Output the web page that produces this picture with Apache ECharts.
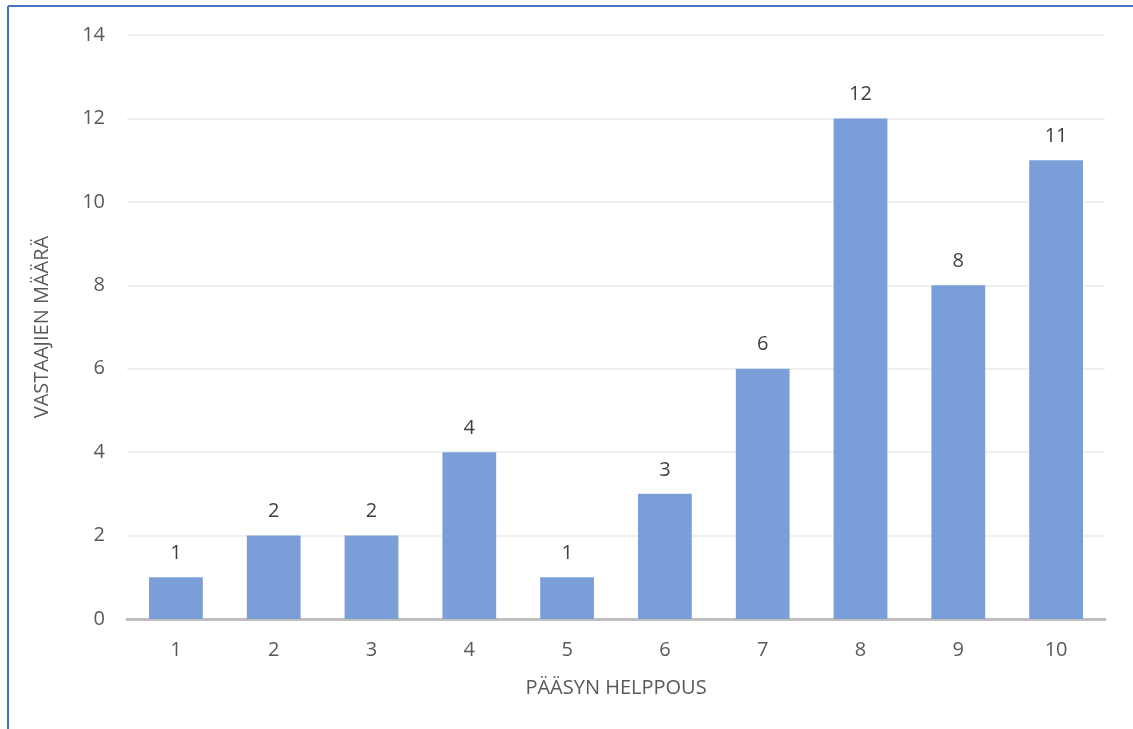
<!DOCTYPE html>
<html>
<head>
<meta charset="utf-8">
<script src="https://cdn.jsdelivr.net/npm/echarts@6/dist/echarts.min.js"></script>
<style>
  html, body { margin: 0; padding: 0; background: #ffffff; }
  #chart { width: 1133px; height: 729px; }
</style>
</head>
<body>
<div id="chart"></div>
<script>
// Vastausten jakauma pääsyn helppouden mukaan
const categories = ['1', '2', '3', '4', '5', '6', '7', '8', '9', '10'];
const respondents = [1, 2, 2, 4, 1, 3, 6, 12, 8, 11];
const yTicks = { min: 0, max: 14, interval: 2 };

const chart = echarts.init(document.getElementById('chart'), null, { renderer: 'canvas' });
const textColor = '#595959';
const font = '"Open Sans", "Noto Sans", sans-serif';
const fs = 20;

chart.setOption({
  animation: false,
  backgroundColor: '#ffffff',
  grid: { left: 127, right: 28, top: 35, bottom: 110, containLabel: false },
  xAxis: {
    type: 'category',
    data: categories,
    name: 'PÄÄSYN HELPPOUS',
    nameLocation: 'middle',
    nameGap: 59,
    nameTextStyle: { color: textColor, fontSize: fs, fontFamily: font },
    axisLine: { lineStyle: { color: '#BFBFBF', width: 3 } },
    axisTick: { show: false },
    axisLabel: { color: textColor, fontSize: fs, fontFamily: font, margin: 21 }
  },
  yAxis: {
    type: 'value',
    min: yTicks.min,
    max: yTicks.max,
    interval: yTicks.interval,
    name: 'VASTAAJIEN MÄÄRÄ',
    nameLocation: 'middle',
    nameGap: 75,
    nameRotate: 90,
    nameTextStyle: { color: textColor, fontSize: fs, fontFamily: font },
    axisLine: { show: false },
    axisTick: { show: false },
    axisLabel: { color: textColor, fontSize: fs, fontFamily: font, margin: 22 },
    splitLine: { lineStyle: { color: '#EBEBEB', width: 1.5 } }
  },
  series: [{
    type: 'bar',
    data: respondents,
    barWidth: '55%',
    itemStyle: { color: '#7A9FD8' },
    label: {
      show: true,
      position: 'top',
      distance: 14,
      color: '#404040',
      fontSize: fs,
      fontFamily: font
    }
  }],
  graphic: [
    { type: 'line', shape: { x1: 8, y1: 6, x2: 8, y2: 729 }, style: { stroke: '#4472C4', lineWidth: 2 } },
    { type: 'line', shape: { x1: 8, y1: 6, x2: 1133, y2: 6 }, style: { stroke: '#4472C4', lineWidth: 2 } }
  ]
});
</script>
</body>
</html>
